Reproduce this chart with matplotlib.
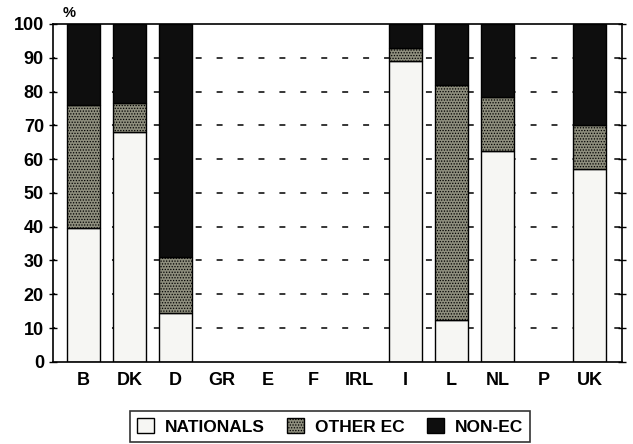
import numpy as np
import matplotlib
matplotlib.use("Agg")
import matplotlib.pyplot as plt
from matplotlib.patches import Patch

plt.rcParams['font.family'] = ['Liberation Sans', 'DejaVu Sans']
plt.rcParams['font.weight'] = 'bold'
plt.rcParams['hatch.color'] = '#55554a'
plt.rcParams['hatch.linewidth'] = 0.6

# pays et parts en %
countries = ['B', 'DK', 'D', 'GR', 'E', 'F', 'IRL', 'I', 'L', 'NL', 'P', 'UK']
nationals = [39.5, 68, 14.5, 0, 0, 0, 0, 89, 12.5, 62.5, 0, 57]
other_ec = [36.5, 8.5, 16.5, 0, 0, 0, 0, 4, 69.5, 16, 0, 13]
has_data = [1, 1, 1, 0, 0, 0, 0, 1, 1, 1, 0, 1]

C_NAT = '#f6f6f3'
C_OEC = '#8e8e7d'
C_NON = '#0e0e0e'

fig = plt.figure(figsize=(6.33, 4.44), dpi=100)
ax = fig.add_axes([0.0837, 0.185, 0.899, 0.761])

x = np.arange(len(countries))
w = 0.72
# lignes pointillees de fond
for yv in range(10, 100, 10):
    ax.axhline(yv, color='black', lw=1.1, ls=(2.5, (3.9, 9.8)), zorder=0)

# seulement les pays avec donnees
idx = [i for i, h in enumerate(has_data) if h]
nat = np.array([nationals[i] for i in idx])
oec = np.array([other_ec[i] for i in idx])
non = 100 - nat - oec
xs = x[idx]
ax.bar(xs, nat, w, color=C_NAT, edgecolor='black', lw=1, zorder=2)
ax.bar(xs, oec, w, bottom=nat, color=C_OEC, edgecolor='black', lw=1,
       hatch='......', zorder=2)
ax.bar(xs, non, w, bottom=nat + oec, color=C_NON, edgecolor='black', lw=1, zorder=2)

ax.set_xlim(-0.66, 11.7)
ax.set_ylim(0, 100)
ax.set_yticks(range(0, 101, 10))
ax.set_xticks(x)
ax.set_xticklabels(countries)
ax.tick_params(axis='y', direction='inout', length=6, right=True, labelsize=13, width=1)
ax.tick_params(axis='x', length=0, labelsize=13, pad=7)
for s in ax.spines.values():
    s.set_linewidth(1.2)
ax.text(-0.44, 101.3, '%', fontsize=10.5, fontweight='bold', ha='left', va='bottom')

handles = [Patch(facecolor=C_NAT, edgecolor='black', label='NATIONALS'),
           Patch(facecolor=C_OEC, edgecolor='black', hatch='......', label='OTHER EC'),
           Patch(facecolor=C_NON, edgecolor='black', label='NON-EC')]
leg = fig.legend(handles=handles, loc='center', bbox_to_anchor=(0.521, 0.04), ncol=3,
                 fontsize=12.5, frameon=True, fancybox=False, edgecolor='black',
                 handlelength=1.0, handleheight=1.0, columnspacing=1.3, handletextpad=0.6)
leg.get_frame().set_linewidth(1.2)

fig.savefig('out.png', dpi=100)
